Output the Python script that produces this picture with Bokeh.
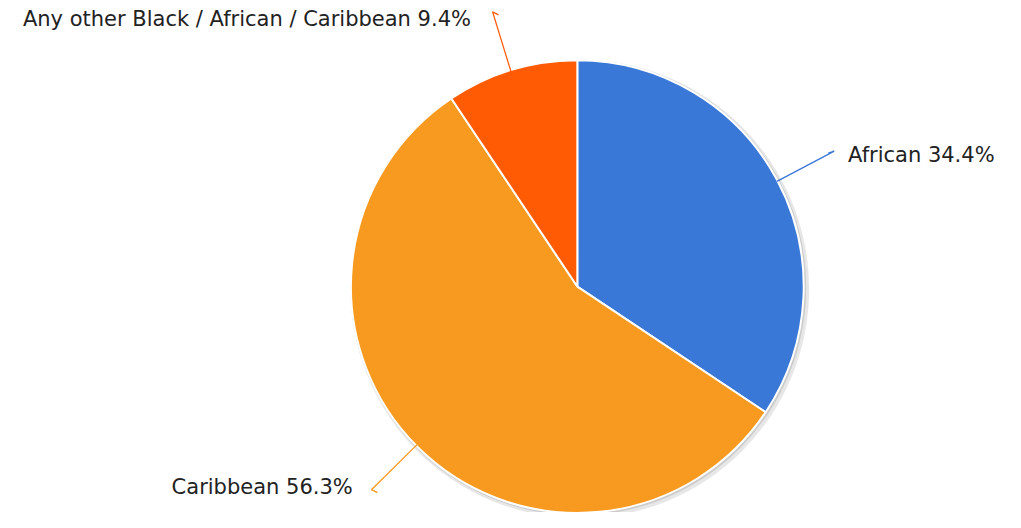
import math
from bokeh.plotting import figure
from bokeh.models import Range1d, ColumnDataSource
from bokeh.core.properties import value
from bokeh.embed import file_html
from bokeh.resources import INLINE

# ---- data ----
categories = ["African", "Caribbean", "Any other Black / African / Caribbean"]
percentages = [34.4, 56.3, 9.4]
colors = ["#3a78d8", "#f99a20", "#ff5b05"]

# ---- layout (chart coords 1021x528; data y = 528 - chart y) ----
W, H = 1005, 512
p = figure(width=W, height=H, output_backend="svg", toolbar_location=None,
           x_range=Range1d(0, 1021), y_range=Range1d(0, 528),
           x_axis_type=None, y_axis_type=None, min_border=0)
p.outline_line_color = None
p.grid.visible = False
p.background_fill_color = "white"

cx, cy, R = 586, 528 - 295, 230
total = sum(percentages)

# shadow
p.circle(x=[cx + 2.5], y=[cy - 2.5], radius=R + 3, fill_color="#bbbbbb", fill_alpha=0.35, line_color=None)
p.circle(x=[cx + 1], y=[cy - 1], radius=R + 1.5, fill_color="#999999", fill_alpha=0.35, line_color=None)

starts, ends, mids = [], [], []
cum = 0.0
for v in percentages:
    a0 = math.radians(90 - (cum + v) / total * 360)
    a1 = math.radians(90 - cum / total * 360)
    starts.append(a0); ends.append(a1); mids.append((a0 + a1) / 2)
    cum += v

src = ColumnDataSource(dict(start=starts, end=ends, color=colors))
p.wedge(x=cx, y=cy, radius=R, start_angle="start", end_angle="end",
        fill_color="color", line_color="white", line_width=2, source=src)

# leader lines and labels
R_out = 296
label_dx = [14, 19, 22]   # horizontal gap between line end and text
label_dy = [-4, 3, -7]    # vertical nudge of text from the line end
for cat, pct, col, m, dx, dy in zip(categories, percentages, colors, mids, label_dx, label_dy):
    x0, y0 = cx + R * math.cos(m), cy + R * math.sin(m)
    x1, y1 = cx + R_out * math.cos(m), cy + R_out * math.sin(m)
    side = 1 if math.cos(m) >= 0 else -1
    x2, y2 = x1 - side * 6, y1 - 3 if side < 0 else y1 - 2
    p.line([x0, x1, x2], [y0, y1, y2], line_color=col, line_width=1.3)
    tx = x1 + side * dx
    p.text(x=[tx], y=[y1 + dy], text=[f"{cat} {pct}%"],
           text_font=value("DejaVu Sans"), text_font_size="21px",
           text_color="#222222", text_baseline="middle",
           text_align="left" if side > 0 else "right")

open("out.html", "w").write(file_html(p, INLINE))
